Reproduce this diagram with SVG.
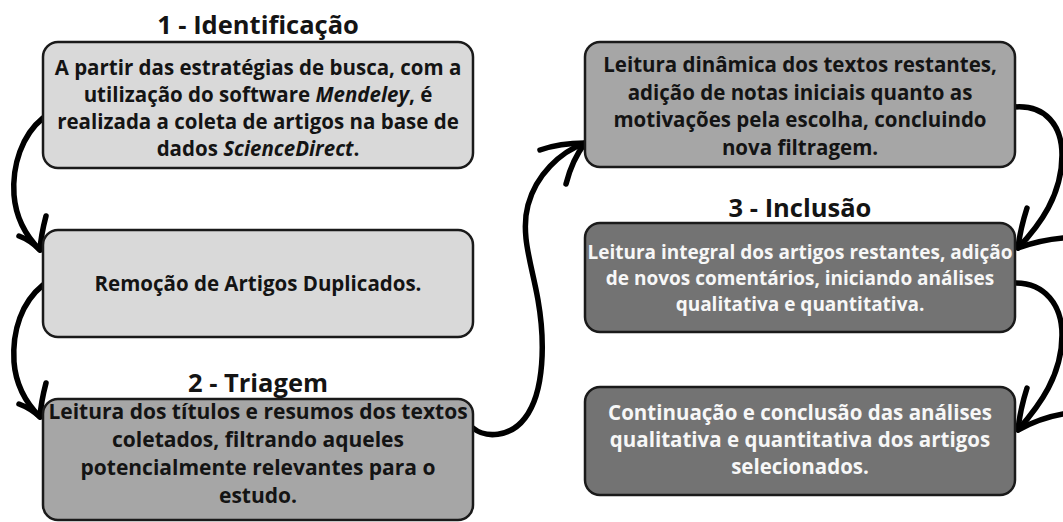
<svg xmlns="http://www.w3.org/2000/svg" width="1063" height="522" viewBox="0 0 1063 522">
<style>
.box{stroke:#1a1a1a;stroke-width:2.5}
.l{fill:#d9d9d9}.m{fill:#a6a6a6}.d{fill:#737373}
text{font-family:"Open Sans","DejaVu Sans",sans-serif;font-weight:700;text-anchor:middle}
.t{font-size:20.5px;fill:#141414}
.w{font-size:20.5px;fill:#f7f7f7}
.s{font-size:19px}
.b{font-size:21px}
.h{font-size:25.5px;fill:#141414}
.i{font-style:italic}
.c{fill:none;stroke:#000;stroke-width:5.5;stroke-linecap:round;stroke-linejoin:round}
</style>
<rect width="1063" height="522" fill="#fff"/>
<g id="connectors">
<path class="c" d="M43,118 C22,135 12,165 14,195 C16,220 28,238 40,250"/>
<path class="c" d="M46,216 Q41,235 40,250 Q30,240 19,236"/>
<path class="c" d="M43,285 C22,302 12,330 14,362 C16,388 28,405 40,417"/>
<path class="c" d="M46,383 Q41,402 40,417 Q30,408 19,404"/>
<path class="c" d="M473,428 C485,438 510,438 525,418 C545,392 545,340 538,300 C532,265 520,235 528,205 C536,175 560,152 585,143"/>
<path class="c" d="M540,150 Q560,143 585,143 Q572,160 566,184"/>
<path class="c" d="M1015,107 C1045,105 1062,125 1062,155 C1062,195 1040,225 1018,248"/>
<path class="c" d="M1027,208 Q1020,230 1018,248 Q1040,240 1063,238"/>
<path class="c" d="M1015,283 C1045,283 1062,305 1062,335 C1062,375 1040,405 1018,430"/>
<path class="c" d="M1027,388 Q1020,410 1018,430 Q1040,418 1063,414"/>
</g>
<g id="title1"><text class="h" x="258" y="34">1 - Identificação</text></g>
<g id="node1">
<rect class="box l" x="43" y="42" width="430" height="126" rx="15"/>
<text class="t" x="258" y="74.5">A partir das estratégias de busca, com a</text>
<text class="t" x="258" y="101.5">utilização do software <tspan class="i">Mendeley</tspan>, é</text>
<text class="t" x="258" y="128.5">realizada a coleta de artigos na base de</text>
<text class="t" x="258" y="155.5">dados <tspan class="i">ScienceDirect</tspan>.</text>
</g>
<g id="node2">
<rect class="box l" x="43" y="230" width="430" height="107" rx="15"/>
<text class="t" x="258" y="291">Remoção de Artigos Duplicados.</text>
</g>
<g id="title2"><text class="h" x="258" y="392">2 - Triagem</text></g>
<g id="node3">
<rect class="box m" x="43" y="399" width="430" height="121" rx="15"/>
<text class="t b" x="258" y="419">Leitura dos títulos e resumos dos textos</text>
<text class="t b" x="258" y="447">coletados, filtrando aqueles</text>
<text class="t b" x="258" y="475">potencialmente relevantes para o</text>
<text class="t b" x="258" y="503">estudo.</text>
</g>
<g id="node4">
<rect class="box m" x="585" y="42" width="430" height="125" rx="15"/>
<text class="t" x="800" y="72">Leitura dinâmica dos textos restantes,</text>
<text class="t" x="800" y="99.5">adição de notas iniciais quanto as</text>
<text class="t" x="800" y="127">motivações pela escolha, concluindo</text>
<text class="t" x="800" y="154.5">nova filtragem.</text>
</g>
<g id="title3"><text class="h" x="800" y="217">3 - Inclusão</text></g>
<g id="node5">
<rect class="box d" x="585" y="223" width="430" height="109" rx="15"/>
<text class="w s" x="800" y="259">Leitura integral dos artigos restantes, adição</text>
<text class="w s" x="800" y="285">de novos comentários, iniciando análises</text>
<text class="w s" x="800" y="311">qualitativa e quantitativa.</text>
</g>
<g id="node6">
<rect class="box d" x="585" y="387" width="430" height="108" rx="15"/>
<text class="w" x="800" y="420">Continuação e conclusão das análises</text>
<text class="w" x="800" y="447">qualitativa e quantitativa dos artigos</text>
<text class="w" x="800" y="474">selecionados.</text>
</g>
</svg>
